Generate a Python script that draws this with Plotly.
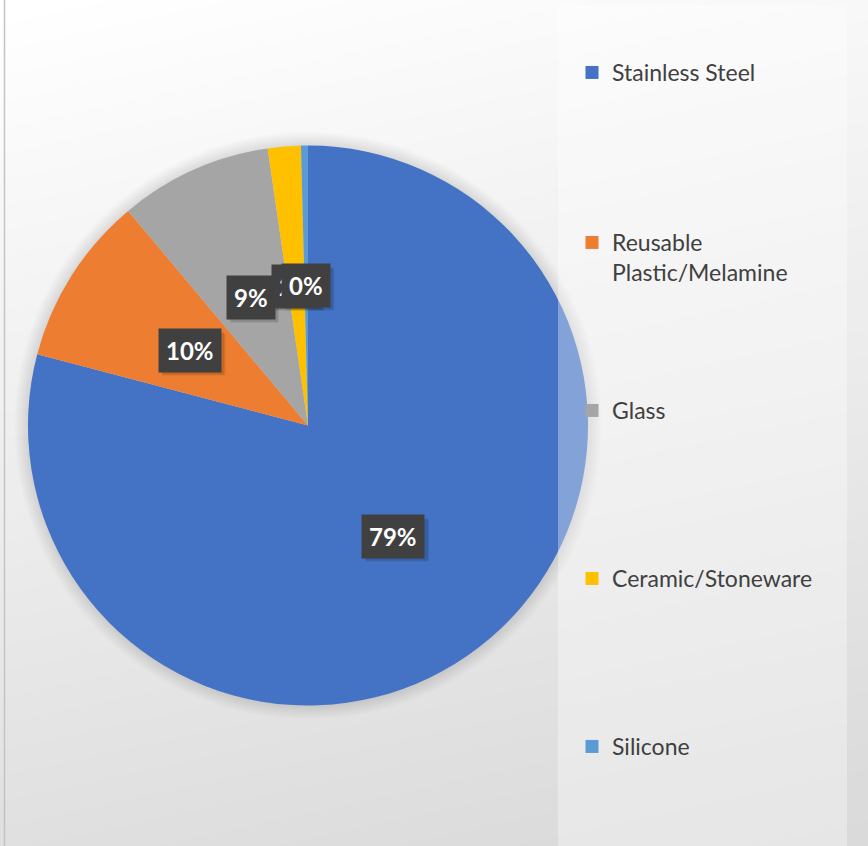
import math
import plotly.graph_objects as go

# ---------------- data ----------------
categories = ["Stainless Steel", "Reusable Plastic/Melamine", "Glass",
              "Ceramic/Stoneware", "Silicone"]
legend_names = ["Stainless Steel", "Reusable<br>Plastic/Melamine", "Glass",
                "Ceramic/Stoneware", "Silicone"]
values = [79.1, 9.8, 8.8, 1.9, 0.4]
colors = ["#4472C4", "#ED7D31", "#A5A5A5", "#FFC000", "#5B9BD5"]

# ---------------- layout constants ----------------
W, H = 868, 846
CX, CY, R = 308, 425.5, 280          # pie centre / radius in pixels
LEGEND_TOPS = [51, 221, 389, 557, 725]  # px, top of each legend entry
LEGEND_X = 572

def px(x):
    return x / W

def py(y):
    return 1 - y / H

shapes = []

# background: slightly tilted linear gradient (white top -> grey bottom-right)
a, b = 0.0366, 0.008
steps = 40
tmax = a * H + b * W
for k in range(steps):
    t = tmax * k / steps
    grey = int(round(255 - t - tmax / steps / 2))
    y_left = (t - b * 0) / a
    y_right = (t - b * W) / a
    path = (f"M {px(-5)},{py(y_left)} L {px(W + 5)},{py(y_right)} "
            f"L {px(W + 5)},{py(H + 10)} L {px(-5)},{py(H + 10)} Z")
    shapes.append(dict(type="path", path=path, xref="paper", yref="paper",
                       fillcolor=f"rgb({grey},{grey},{grey})",
                       line=dict(width=0), layer="below"))

# soft shadow around pie
for r_extra in range(14, 0, -1):
    r = R + r_extra
    shapes.append(dict(type="circle", xref="paper", yref="paper",
                       x0=px(CX - r), x1=px(CX + r), y0=py(CY + r), y1=py(CY - r),
                       fillcolor="rgba(0,0,0,0.008)", line=dict(width=0),
                       layer="below"))

# left frame line
shapes.append(dict(type="line", xref="paper", yref="paper",
                   x0=px(4.5), x1=px(4.5), y0=0, y1=1,
                   line=dict(color="#c4c4c4", width=1.5), layer="above"))

# semi-transparent legend panel
shapes.append(dict(type="rect", xref="paper", yref="paper",
                   x0=px(558), x1=px(847), y0=0, y1=py(5),
                   fillcolor="rgba(255,255,255,0.34)", line=dict(width=0),
                   layer="above"))

fig = go.Figure()
fig.add_trace(go.Pie(
    labels=categories, values=values, sort=False, direction="clockwise",
    rotation=0, marker=dict(colors=colors, line=dict(width=0)),
    textinfo="none", showlegend=False, hoverinfo="label+percent",
    domain=dict(x=[px(CX - R), px(CX + R)], y=[py(CY + R), py(CY - R)]),
))

# legend entries (one legend per category so they can be spaced like the original)
for i, (name, col) in enumerate(zip(legend_names, colors)):
    key = "legend" if i == 0 else f"legend{i + 1}"
    fig.add_trace(go.Scatter(
        x=[None], y=[None], mode="markers", name=name,
        marker=dict(symbol="square", size=13, color=col),
        legend=key, showlegend=True, hoverinfo="skip"))
    fig.layout[key] = dict(
        x=px(LEGEND_X), y=py(LEGEND_TOPS[i]), xanchor="left", yanchor="top",
        bgcolor="rgba(0,0,0,0)", borderwidth=0, valign="top",
        font=dict(family="Lato, Carlito, sans-serif", size=23, color="#404040"),
        itemwidth=30, itemclick=False, itemdoubleclick=False)

# data labels: dark boxes, placed at half radius along each slice's mid angle
annotations = []
total = sum(values)
cum = 0.0
for v in values:
    mid = (cum + v / 2) / total * 2 * math.pi
    cum += v
    lx = CX + 0.5 * R * math.sin(mid)
    ly = CY - 0.5 * R * math.cos(mid)
    txt = f"{round(v / total * 100)}%"
    # soft drop shadow behind the label box
    bw, bh = 18 + 15 * len(txt), 42
    for off, alpha in ((4, 0.08), (3, 0.10)):
        shapes.append(dict(type="rect", xref="paper", yref="paper",
                           x0=px(lx - bw / 2 + off), x1=px(lx + bw / 2 + off),
                           y0=py(ly + bh / 2 + off), y1=py(ly - bh / 2 + off),
                           fillcolor=f"rgba(0,0,0,{alpha})", line=dict(width=0),
                           layer="above"))
    annotations.append(dict(
        x=px(lx), y=py(ly), xref="paper", yref="paper", text=f"<b>{txt}</b>",
        showarrow=False, xanchor="center", yanchor="middle",
        font=dict(family="Lato, sans-serif", size=24, color="white"),
        bgcolor="#404040", borderpad=7))

fig.update_layout(
    width=W, height=H, margin=dict(l=0, r=0, t=0, b=0),
    paper_bgcolor="#d8d8d8", plot_bgcolor="rgba(0,0,0,0)",
    xaxis=dict(visible=False), yaxis=dict(visible=False),
    shapes=shapes, annotations=annotations, hovermode=False,
)

fig.write_html("out.html",
               config={"displayModeBar": False},
               post_script="document.body.style.margin='0px';"
                           "document.body.style.overflow='hidden';")
